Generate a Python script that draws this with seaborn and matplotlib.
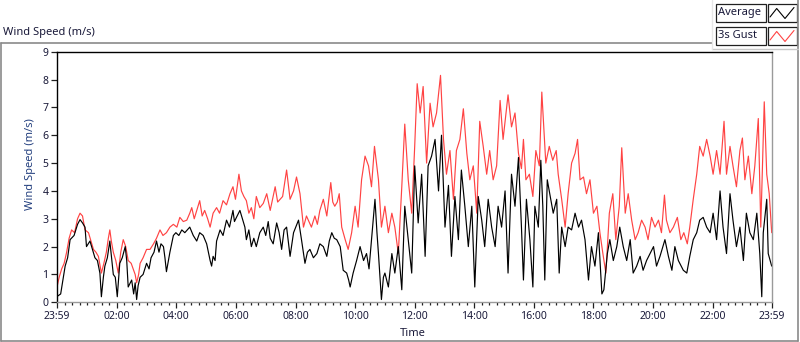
import matplotlib
matplotlib.use("Agg")
import matplotlib.pyplot as plt
import seaborn as sns
from matplotlib.patches import Rectangle
from matplotlib.lines import Line2D

# ==========================================
# 数据: 分钟数 (从前一天 23:59 起) 与风速 (m/s)
# ==========================================
avg_t = [0, 8, 17, 22, 27, 35, 42, 47, 52, 57, 60, 67, 72, 77, 82, 87, 90, 94, 97, 102,
         107, 110, 114, 118, 122, 127, 132, 138, 141, 144, 151, 155, 158, 161, 164, 168, 174, 181, 186, 190,
         196, 201, 206, 210, 215, 218, 221, 228, 235, 240, 246, 252, 258, 263, 268, 275, 282, 288, 295, 302,
         309, 312, 315, 319, 322, 329, 335, 342, 348, 355, 358, 362, 369, 374, 379, 382, 387, 392, 397, 402,
         409, 416, 421, 426, 430, 436, 443, 448, 453, 458, 463, 470, 477, 487, 493, 500, 505, 510, 517, 524,
         530, 537, 544, 549, 554, 559, 564, 571, 577, 584, 588, 591, 597, 604, 611, 618, 624, 629, 634, 641,
         645, 648, 654, 658, 661, 668, 675, 681, 688, 695, 701, 708, 715, 721, 728, 735, 742, 748, 755, 762,
         769, 775, 782, 789, 795, 802, 809, 815, 822, 829, 836, 842, 849, 856, 862, 869, 876, 883, 889, 896,
         903, 909, 916, 923, 930, 936, 940, 946, 953, 959, 963, 970, 975, 979, 983, 988, 993, 1000, 1007, 1012,
         1017, 1024, 1030, 1037, 1044, 1051, 1057, 1064, 1071, 1077, 1084, 1091, 1098, 1102, 1109, 1114, 1121, 1128, 1134, 1141,
         1148, 1155, 1161, 1168, 1175, 1181, 1188, 1195, 1202, 1208, 1215, 1225, 1232, 1239, 1245, 1252, 1262, 1269, 1275, 1282,
         1289, 1295, 1302, 1309, 1316, 1322, 1329, 1336, 1342, 1349, 1356, 1362, 1369, 1376, 1383, 1389, 1396, 1403, 1410, 1416,
         1420, 1423, 1430, 1433, 1440]
avg_v = [0.2, 0.3, 1.3, 1.6, 2.25, 2.4, 2.8, 2.97, 2.85, 2.7, 2.0, 2.2, 1.9, 1.6, 1.5, 1.05, 0.2, 0.9, 1.3, 1.6,
         2.2, 1.7, 1.0, 0.9, 0.2, 1.4, 1.6, 2.0, 1.5, 0.55, 0.8, 0.3, 0.7, 0.1, 0.6, 0.9, 1.0, 1.4, 1.2, 1.6,
         1.8, 2.2, 1.8, 2.1, 2.0, 1.6, 1.1, 1.8, 2.4, 2.5, 2.4, 2.6, 2.5, 2.6, 2.7, 2.4, 2.2, 2.5, 2.4, 2.1,
         1.5, 1.3, 1.65, 1.5, 2.2, 2.6, 2.4, 2.95, 2.7, 3.3, 2.9, 3.05, 3.3, 3.0, 2.7, 2.25, 2.6, 2.0, 2.3, 2.0,
         2.5, 2.7, 2.4, 2.9, 2.3, 2.1, 2.85, 2.5, 1.9, 2.6, 2.7, 1.65, 2.5, 2.95, 2.25, 1.4, 1.8, 1.9, 1.6, 1.75,
         2.1, 2.0, 1.65, 2.2, 2.5, 2.3, 2.25, 2.0, 1.15, 1.05, 0.8, 0.55, 1.05, 1.5, 2.0, 1.5, 1.75, 1.2, 2.25, 3.7,
         2.5, 1.75, 0.1, 0.9, 1.05, 0.55, 1.75, 1.05, 2.0, 0.45, 3.45, 2.25, 1.05, 4.9, 2.85, 4.6, 1.65, 4.9, 5.25, 5.85,
         4.0, 6.0, 2.7, 4.2, 1.65, 3.8, 2.25, 4.75, 3.45, 2.0, 3.45, 0.55, 3.8, 2.95, 2.0, 3.7, 2.7, 2.0, 3.45, 2.7,
         4.0, 1.05, 4.6, 3.45, 5.2, 2.7, 0.8, 3.7, 2.25, 0.55, 3.45, 2.7, 5.1, 3.45, 0.8, 4.4, 3.9, 3.2, 3.7, 1.05,
         2.7, 2.0, 2.7, 2.6, 3.2, 2.7, 2.95, 2.25, 0.8, 2.0, 1.3, 2.5, 0.3, 0.45, 1.75, 2.25, 1.5, 2.0, 2.7, 2.0,
         1.5, 2.25, 1.05, 1.3, 1.65, 1.15, 1.5, 1.75, 2.0, 1.3, 1.65, 2.25, 1.65, 1.15, 2.0, 1.5, 1.15, 1.05, 1.65, 2.25,
         2.5, 2.95, 3.05, 2.7, 2.5, 3.2, 2.25, 4.0, 2.7, 1.75, 3.9, 2.95, 2.0, 2.7, 1.5, 3.2, 2.5, 2.25, 3.2, 1.75,
         0.2, 2.5, 3.7, 1.75, 1.3]

gust_t = [0, 5, 10, 15, 20, 25, 30, 36, 42, 47, 52, 57, 64, 69, 74, 79, 84, 90, 95, 100,
          104, 107, 110, 114, 119, 124, 129, 134, 139, 144, 150, 154, 158, 161, 165, 168, 174, 181, 188, 195,
          201, 208, 214, 221, 228, 235, 242, 248, 255, 262, 268, 272, 277, 282, 288, 293, 298, 304, 309, 315,
          322, 328, 335, 342, 349, 355, 360, 367, 372, 377, 382, 387, 392, 397, 402, 409, 416, 423, 430, 440,
          445, 450, 455, 460, 463, 470, 477, 483, 490, 497, 503, 508, 513, 520, 525, 530, 537, 544, 552, 556,
          560, 565, 569, 574, 581, 587, 594, 601, 607, 614, 621, 628, 634, 640, 648, 654, 661, 668, 675, 681,
          688, 695, 701, 708, 715, 721, 726, 732, 738, 745, 752, 758, 765, 773, 779, 785, 792, 799, 805, 812,
          819, 826, 832, 839, 846, 852, 859, 866, 872, 879, 886, 893, 899, 909, 916, 923, 930, 936, 940, 945,
          952, 959, 965, 972, 977, 980, 985, 992, 999, 1006, 1010, 1017, 1024, 1030, 1037, 1044, 1049, 1054, 1061, 1067,
          1074, 1081, 1088, 1094, 1100, 1106, 1113, 1120, 1126, 1133, 1138, 1145, 1151, 1158, 1165, 1171, 1178, 1185, 1191, 1198,
          1205, 1212, 1218, 1224, 1228, 1235, 1242, 1250, 1257, 1263, 1270, 1275, 1282, 1289, 1295, 1302, 1309, 1316, 1322, 1329,
          1336, 1344, 1349, 1356, 1362, 1369, 1376, 1381, 1386, 1393, 1400, 1406, 1413, 1418, 1425, 1430, 1435, 1440]
gust_v = [0.5, 0.9, 1.2, 1.4, 1.8, 2.3, 2.6, 2.5, 3.0, 3.2, 3.1, 2.6, 2.5, 2.2, 1.9, 1.8, 1.65, 1.05, 1.4, 1.8,
          2.3, 2.6, 2.2, 1.8, 1.5, 1.05, 1.8, 2.25, 2.0, 1.5, 1.4, 1.2, 1.0, 0.7, 1.0, 1.4, 1.6, 1.9, 1.9, 2.1,
          2.3, 2.6, 2.4, 2.5, 2.7, 2.8, 2.7, 3.05, 2.9, 2.95, 3.2, 3.4, 3.0, 3.3, 3.65, 3.1, 3.3, 3.0, 2.7, 3.2,
          3.4, 3.2, 3.65, 3.5, 3.9, 4.15, 3.7, 4.6, 4.0, 3.8, 3.65, 3.2, 3.4, 3.0, 3.8, 3.4, 3.55, 3.9, 3.3, 4.15,
          3.6, 3.7, 3.8, 4.4, 4.75, 3.7, 4.0, 4.5, 3.9, 2.7, 3.1, 2.9, 2.7, 3.1, 2.8, 3.3, 3.7, 3.1, 4.3, 3.6,
          3.45, 3.6, 3.9, 2.7, 2.25, 1.9, 2.5, 3.45, 2.7, 4.4, 5.25, 4.9, 4.15, 5.6, 4.4, 2.7, 3.45, 2.5, 3.2, 2.7,
          1.75, 4.15, 6.4, 4.4, 3.2, 5.6, 7.85, 6.8, 7.75, 5.0, 7.15, 6.3, 6.8, 8.15, 5.85, 4.6, 5.45, 3.7, 5.45, 5.85,
          6.95, 5.35, 4.4, 4.9, 3.2, 6.5, 5.6, 4.6, 5.45, 4.4, 4.9, 7.25, 5.85, 7.45, 6.3, 6.8, 5.35, 4.8, 5.85, 4.4,
          4.6, 3.8, 5.45, 4.9, 7.55, 6.6, 5.0, 5.6, 5.1, 5.45, 4.6, 3.7, 2.7, 3.9, 5.0, 5.35, 5.85, 4.4, 4.5, 3.9,
          4.4, 3.2, 3.45, 2.5, 1.75, 1.05, 3.2, 3.9, 2.25, 3.45, 5.55, 3.2, 3.9, 2.95, 2.25, 2.5, 2.95, 2.7, 2.25, 3.05,
          2.7, 2.95, 2.5, 3.85, 2.95, 2.5, 2.7, 3.05, 2.25, 2.5, 2.1, 2.7, 3.7, 4.6, 5.6, 5.25, 5.85, 5.25, 4.6, 5.45,
          4.6, 6.5, 4.6, 5.6, 4.9, 4.15, 5.45, 5.9, 4.4, 5.25, 3.9, 4.9, 6.6, 2.7, 7.2, 4.6, 3.9, 2.5]

time_labels = ["23:59", "02:00", "04:00", "06:00", "08:00", "10:00", "12:00",
               "14:00", "16:00", "18:00", "20:00", "22:00", "23:59"]
y_ticks = [0, 1, 2, 3, 4, 5, 6, 7, 8, 9]

# ==========================================
# 画布与样式
# ==========================================
sns.set_style("white")
plt.rcParams['font.family'] = ['Noto Sans', 'DejaVu Sans']

W, H = 800, 342
TXT = "#1a1a3a"
fig = plt.figure(figsize=(W / 100, H / 100), dpi=100)
fig.patch.set_facecolor("white")

def fx(x):
    return x / W

def fy(y):
    return 1 - y / H

ax = fig.add_axes([fx(56.7), fy(302.3), fx(771.7) - fx(56.7), fy(51.7) - fy(302.3)])

sns.lineplot(x=gust_t, y=gust_v, ax=ax, color="#ff4343", lw=0.85, estimator=None, sort=False)
sns.lineplot(x=avg_t, y=avg_v, ax=ax, color="black", lw=0.85, estimator=None, sort=False)

ax.set_xlim(0, 1440)
ax.set_ylim(0, 9)

# 主刻度: 23:59, 02:00 ... 22:00, 23:59; 次刻度每 15 分钟
major = [0] + [121 + 120 * k for k in range(11)] + [1440]
ax.set_xticks(major)
ax.set_xticklabels(time_labels)
ax.set_xticks([m for m in range(16, 1440, 15) if (m - 1) % 120 != 0], minor=True)
ax.set_yticks(y_ticks)
ax.set_yticklabels([str(v) for v in y_ticks])

ax.tick_params(axis="both", which="major", direction="out", length=4.5, width=0.9,
               labelsize=7.5, labelcolor=TXT, color="#202020", pad=1.5)
ax.tick_params(axis="x", which="minor", direction="out", length=2.5, width=0.9, color="#202020")
ax.tick_params(axis="x", which="both", bottom=True)
ax.tick_params(axis="y", which="both", left=True)

for side in ["top", "left"]:
    ax.spines[side].set_color("black")
    ax.spines[side].set_linewidth(1.0)
for side in ["bottom", "right"]:
    ax.spines[side].set_color("#9a9a9a")
    ax.spines[side].set_linewidth(1.0)

ax.set_ylabel("Wind Speed (m/s)", fontsize=8, color="#24407f")
ax.yaxis.set_label_coords(-0.029, 0.55)
fig.text(fx(413), fy(333.5), "Time", fontsize=8, color=TXT, ha="center", va="center")

# ==========================================
# 外框, 标题与图例 (LabVIEW 风格)
# ==========================================
grey = "#8a8a8a"
fig.add_artist(Line2D([fx(1), fx(712)], [fy(42.5), fy(42.5)], color=grey, lw=1.2))
fig.add_artist(Line2D([fx(1.2), fx(1.2)], [fy(42.5), fy(341)], color=grey, lw=1.2))
fig.add_artist(Line2D([fx(1), fx(798)], [fy(341), fy(341)], color=grey, lw=1.2))
fig.add_artist(Line2D([fx(798), fx(798)], [fy(0), fy(341)], color=grey, lw=1.2))
fig.add_artist(Line2D([fx(712), fx(798)], [fy(48.5), fy(48.5)], color="#c8c8c8", lw=1.0))
fig.add_artist(Line2D([fx(712), fx(712)], [fy(0), fy(48.5)], color="#e6e6e6", lw=1.0))

fig.text(fx(3), fy(32), "Wind Speed (m/s)", fontsize=8, color=TXT, va="center", ha="left")

legend_items = [("Average", "black", 4), ("3s Gust", "#ff4343", 27)]
for name, col, top in legend_items:
    fig.add_artist(Rectangle((fx(715.5), fy(top + 17.5)), fx(50), 17.5 / H,
                             facecolor="white", edgecolor="#202020", lw=0.9))
    fig.add_artist(Rectangle((fx(767.5), fy(top + 17.5)), fx(29), 17.5 / H,
                             facecolor="white", edgecolor="#202020", lw=0.9))
    fig.text(fx(717.5), fy(top + 9), name, fontsize=8, color=TXT, va="center", ha="left")
    zx = [770, 776.7, 785, 794]
    zy = [top + 13, top + 4.5, top + 14.5, top + 3.5]
    fig.add_artist(Line2D([fx(v) for v in zx], [fy(v) for v in zy], color=col, lw=0.8))

fig.savefig("out.png", dpi=100, facecolor="white")
